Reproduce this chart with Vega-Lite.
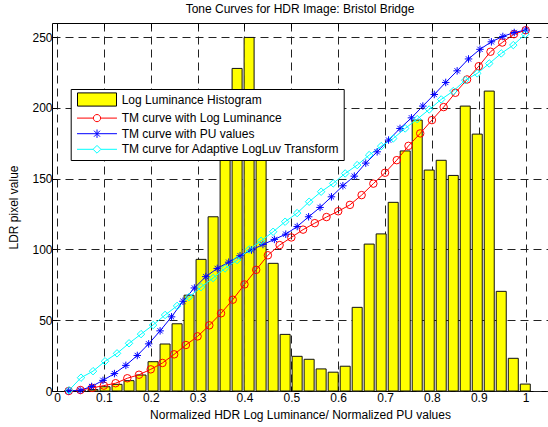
{
  "$schema": "https://vega.github.io/schema/vega-lite/v6.json",
  "width": 496,
  "height": 368,
  "autosize": {"type": "none"},
  "padding": {"left": 52, "top": 23, "right": 0, "bottom": 36},
  "background": "white",
  "title": {
    "text": "Tone Curves for HDR Image: Bristol Bridge",
    "font": "Liberation Sans",
    "fontSize": 12,
    "fontWeight": "normal",
    "color": "black",
    "anchor": "middle",
    "frame": "group",
    "baseline": "alphabetic",
    "offset": 7.5,
    "dy": 10
  },
  "resolve": {"axis": {"x": "independent"}},
  "datasets": {
    "hist": [
      {"s": "Log Luminance Histogram", "x": 0.0256, "y": 0},
      {"s": "Log Luminance Histogram", "x": 0.0512, "y": 0},
      {"s": "Log Luminance Histogram", "x": 0.0769, "y": 1},
      {"s": "Log Luminance Histogram", "x": 0.1025, "y": 3},
      {"s": "Log Luminance Histogram", "x": 0.1281, "y": 4.7},
      {"s": "Log Luminance Histogram", "x": 0.1537, "y": 7.3},
      {"s": "Log Luminance Histogram", "x": 0.1793, "y": 11.3},
      {"s": "Log Luminance Histogram", "x": 0.2050, "y": 20.7},
      {"s": "Log Luminance Histogram", "x": 0.2306, "y": 33.2},
      {"s": "Log Luminance Histogram", "x": 0.2562, "y": 47.5},
      {"s": "Log Luminance Histogram", "x": 0.2818, "y": 67.7},
      {"s": "Log Luminance Histogram", "x": 0.3074, "y": 93},
      {"s": "Log Luminance Histogram", "x": 0.3331, "y": 123.1},
      {"s": "Log Luminance Histogram", "x": 0.3587, "y": 190},
      {"s": "Log Luminance Histogram", "x": 0.3843, "y": 227.9},
      {"s": "Log Luminance Histogram", "x": 0.4099, "y": 249.8},
      {"s": "Log Luminance Histogram", "x": 0.4355, "y": 180},
      {"s": "Log Luminance Histogram", "x": 0.4612, "y": 90.2},
      {"s": "Log Luminance Histogram", "x": 0.4868, "y": 40},
      {"s": "Log Luminance Histogram", "x": 0.5124, "y": 24.5},
      {"s": "Log Luminance Histogram", "x": 0.5380, "y": 22.4},
      {"s": "Log Luminance Histogram", "x": 0.5636, "y": 15.6},
      {"s": "Log Luminance Histogram", "x": 0.5893, "y": 13.3},
      {"s": "Log Luminance Histogram", "x": 0.6149, "y": 17.5},
      {"s": "Log Luminance Histogram", "x": 0.6405, "y": 59.1},
      {"s": "Log Luminance Histogram", "x": 0.6661, "y": 103.8},
      {"s": "Log Luminance Histogram", "x": 0.6917, "y": 111},
      {"s": "Log Luminance Histogram", "x": 0.7174, "y": 133.3},
      {"s": "Log Luminance Histogram", "x": 0.7430, "y": 169.6},
      {"s": "Log Luminance Histogram", "x": 0.7686, "y": 191.4},
      {"s": "Log Luminance Histogram", "x": 0.7942, "y": 156.1},
      {"s": "Log Luminance Histogram", "x": 0.8198, "y": 163},
      {"s": "Log Luminance Histogram", "x": 0.8455, "y": 152.3},
      {"s": "Log Luminance Histogram", "x": 0.8711, "y": 201.3},
      {"s": "Log Luminance Histogram", "x": 0.8967, "y": 181.5},
      {"s": "Log Luminance Histogram", "x": 0.9223, "y": 211.9},
      {"s": "Log Luminance Histogram", "x": 0.9479, "y": 70.4},
      {"s": "Log Luminance Histogram", "x": 0.9736, "y": 23.1},
      {"s": "Log Luminance Histogram", "x": 0.9992, "y": 4.9}
    ],
    "curves": [
      {"s": "TM curve with Log Luminance", "x": 0.025, "y": 0},
      {"s": "TM curve with Log Luminance", "x": 0.05, "y": 0.7},
      {"s": "TM curve with Log Luminance", "x": 0.075, "y": 2.2},
      {"s": "TM curve with Log Luminance", "x": 0.1, "y": 3.8},
      {"s": "TM curve with Log Luminance", "x": 0.125, "y": 5.5},
      {"s": "TM curve with Log Luminance", "x": 0.15, "y": 9},
      {"s": "TM curve with Log Luminance", "x": 0.175, "y": 11.5},
      {"s": "TM curve with Log Luminance", "x": 0.2, "y": 15.3},
      {"s": "TM curve with Log Luminance", "x": 0.225, "y": 19.8},
      {"s": "TM curve with Log Luminance", "x": 0.25, "y": 25.9},
      {"s": "TM curve with Log Luminance", "x": 0.275, "y": 32.5},
      {"s": "TM curve with Log Luminance", "x": 0.3, "y": 38.6},
      {"s": "TM curve with Log Luminance", "x": 0.325, "y": 46.4},
      {"s": "TM curve with Log Luminance", "x": 0.35, "y": 54.9},
      {"s": "TM curve with Log Luminance", "x": 0.375, "y": 64.5},
      {"s": "TM curve with Log Luminance", "x": 0.4, "y": 75.3},
      {"s": "TM curve with Log Luminance", "x": 0.425, "y": 85.6},
      {"s": "TM curve with Log Luminance", "x": 0.45, "y": 95.9},
      {"s": "TM curve with Log Luminance", "x": 0.475, "y": 103.1},
      {"s": "TM curve with Log Luminance", "x": 0.5, "y": 108.5},
      {"s": "TM curve with Log Luminance", "x": 0.525, "y": 114},
      {"s": "TM curve with Log Luminance", "x": 0.55, "y": 118.6},
      {"s": "TM curve with Log Luminance", "x": 0.575, "y": 122.9},
      {"s": "TM curve with Log Luminance", "x": 0.6, "y": 127},
      {"s": "TM curve with Log Luminance", "x": 0.625, "y": 131.5},
      {"s": "TM curve with Log Luminance", "x": 0.65, "y": 138.4},
      {"s": "TM curve with Log Luminance", "x": 0.675, "y": 146.5},
      {"s": "TM curve with Log Luminance", "x": 0.7, "y": 154.2},
      {"s": "TM curve with Log Luminance", "x": 0.725, "y": 163.1},
      {"s": "TM curve with Log Luminance", "x": 0.75, "y": 173.2},
      {"s": "TM curve with Log Luminance", "x": 0.775, "y": 182},
      {"s": "TM curve with Log Luminance", "x": 0.8, "y": 191.4},
      {"s": "TM curve with Log Luminance", "x": 0.825, "y": 200.6},
      {"s": "TM curve with Log Luminance", "x": 0.85, "y": 210.7},
      {"s": "TM curve with Log Luminance", "x": 0.875, "y": 220.1},
      {"s": "TM curve with Log Luminance", "x": 0.9, "y": 229.5},
      {"s": "TM curve with Log Luminance", "x": 0.925, "y": 239.7},
      {"s": "TM curve with Log Luminance", "x": 0.95, "y": 246.2},
      {"s": "TM curve with Log Luminance", "x": 0.975, "y": 252.1},
      {"s": "TM curve with Log Luminance", "x": 1.0, "y": 254.9},
      {"s": "TM curve with PU values", "x": 0.025, "y": 0},
      {"s": "TM curve with PU values", "x": 0.0494, "y": 0.5},
      {"s": "TM curve with PU values", "x": 0.0738, "y": 3.2},
      {"s": "TM curve with PU values", "x": 0.0981, "y": 7.5},
      {"s": "TM curve with PU values", "x": 0.1225, "y": 12.3},
      {"s": "TM curve with PU values", "x": 0.1469, "y": 18.1},
      {"s": "TM curve with PU values", "x": 0.1713, "y": 25.1},
      {"s": "TM curve with PU values", "x": 0.1956, "y": 33.3},
      {"s": "TM curve with PU values", "x": 0.2200, "y": 42.5},
      {"s": "TM curve with PU values", "x": 0.2444, "y": 52.4},
      {"s": "TM curve with PU values", "x": 0.2688, "y": 63.4},
      {"s": "TM curve with PU values", "x": 0.2931, "y": 72.8},
      {"s": "TM curve with PU values", "x": 0.3175, "y": 80.8},
      {"s": "TM curve with PU values", "x": 0.3419, "y": 86.6},
      {"s": "TM curve with PU values", "x": 0.3663, "y": 91},
      {"s": "TM curve with PU values", "x": 0.3906, "y": 95.6},
      {"s": "TM curve with PU values", "x": 0.4150, "y": 99.6},
      {"s": "TM curve with PU values", "x": 0.4394, "y": 103.5},
      {"s": "TM curve with PU values", "x": 0.4638, "y": 107.1},
      {"s": "TM curve with PU values", "x": 0.4881, "y": 110.8},
      {"s": "TM curve with PU values", "x": 0.5125, "y": 116.2},
      {"s": "TM curve with PU values", "x": 0.5369, "y": 123.1},
      {"s": "TM curve with PU values", "x": 0.5613, "y": 129.7},
      {"s": "TM curve with PU values", "x": 0.5856, "y": 137.2},
      {"s": "TM curve with PU values", "x": 0.6100, "y": 145},
      {"s": "TM curve with PU values", "x": 0.6344, "y": 151.8},
      {"s": "TM curve with PU values", "x": 0.6588, "y": 161},
      {"s": "TM curve with PU values", "x": 0.6831, "y": 169},
      {"s": "TM curve with PU values", "x": 0.7075, "y": 177.3},
      {"s": "TM curve with PU values", "x": 0.7319, "y": 185.5},
      {"s": "TM curve with PU values", "x": 0.7563, "y": 193},
      {"s": "TM curve with PU values", "x": 0.7806, "y": 201.3},
      {"s": "TM curve with PU values", "x": 0.8050, "y": 209.5},
      {"s": "TM curve with PU values", "x": 0.8294, "y": 218},
      {"s": "TM curve with PU values", "x": 0.8538, "y": 226.2},
      {"s": "TM curve with PU values", "x": 0.8781, "y": 234.6},
      {"s": "TM curve with PU values", "x": 0.9025, "y": 241.4},
      {"s": "TM curve with PU values", "x": 0.9269, "y": 246.7},
      {"s": "TM curve with PU values", "x": 0.9513, "y": 250.5},
      {"s": "TM curve with PU values", "x": 0.9756, "y": 253.3},
      {"s": "TM curve with PU values", "x": 1.0, "y": 255},
      {"s": "TM curve for Adaptive LogLuv Transform", "x": 0.0256, "y": 0.5},
      {"s": "TM curve for Adaptive LogLuv Transform", "x": 0.0512, "y": 9.4},
      {"s": "TM curve for Adaptive LogLuv Transform", "x": 0.0769, "y": 14},
      {"s": "TM curve for Adaptive LogLuv Transform", "x": 0.1025, "y": 21},
      {"s": "TM curve for Adaptive LogLuv Transform", "x": 0.1281, "y": 26.6},
      {"s": "TM curve for Adaptive LogLuv Transform", "x": 0.1537, "y": 33.7},
      {"s": "TM curve for Adaptive LogLuv Transform", "x": 0.1793, "y": 40.2},
      {"s": "TM curve for Adaptive LogLuv Transform", "x": 0.2050, "y": 46.6},
      {"s": "TM curve for Adaptive LogLuv Transform", "x": 0.2306, "y": 53.7},
      {"s": "TM curve for Adaptive LogLuv Transform", "x": 0.2562, "y": 60.1},
      {"s": "TM curve for Adaptive LogLuv Transform", "x": 0.2818, "y": 66.4},
      {"s": "TM curve for Adaptive LogLuv Transform", "x": 0.3074, "y": 73.4},
      {"s": "TM curve for Adaptive LogLuv Transform", "x": 0.3331, "y": 79.8},
      {"s": "TM curve for Adaptive LogLuv Transform", "x": 0.3587, "y": 86.6},
      {"s": "TM curve for Adaptive LogLuv Transform", "x": 0.3843, "y": 92.5},
      {"s": "TM curve for Adaptive LogLuv Transform", "x": 0.4099, "y": 100},
      {"s": "TM curve for Adaptive LogLuv Transform", "x": 0.4355, "y": 106.1},
      {"s": "TM curve for Adaptive LogLuv Transform", "x": 0.4612, "y": 112.5},
      {"s": "TM curve for Adaptive LogLuv Transform", "x": 0.4868, "y": 119.6},
      {"s": "TM curve for Adaptive LogLuv Transform", "x": 0.5124, "y": 125.7},
      {"s": "TM curve for Adaptive LogLuv Transform", "x": 0.5380, "y": 133.7},
      {"s": "TM curve for Adaptive LogLuv Transform", "x": 0.5636, "y": 140.8},
      {"s": "TM curve for Adaptive LogLuv Transform", "x": 0.5893, "y": 146.7},
      {"s": "TM curve for Adaptive LogLuv Transform", "x": 0.6149, "y": 153.7},
      {"s": "TM curve for Adaptive LogLuv Transform", "x": 0.6405, "y": 159.6},
      {"s": "TM curve for Adaptive LogLuv Transform", "x": 0.6661, "y": 166.7},
      {"s": "TM curve for Adaptive LogLuv Transform", "x": 0.6917, "y": 173},
      {"s": "TM curve for Adaptive LogLuv Transform", "x": 0.7174, "y": 178.4},
      {"s": "TM curve for Adaptive LogLuv Transform", "x": 0.7430, "y": 185.5},
      {"s": "TM curve for Adaptive LogLuv Transform", "x": 0.7686, "y": 192.1},
      {"s": "TM curve for Adaptive LogLuv Transform", "x": 0.7942, "y": 198.9},
      {"s": "TM curve for Adaptive LogLuv Transform", "x": 0.8198, "y": 206},
      {"s": "TM curve for Adaptive LogLuv Transform", "x": 0.8455, "y": 211.9},
      {"s": "TM curve for Adaptive LogLuv Transform", "x": 0.8711, "y": 219.6},
      {"s": "TM curve for Adaptive LogLuv Transform", "x": 0.8967, "y": 224.4},
      {"s": "TM curve for Adaptive LogLuv Transform", "x": 0.9223, "y": 231.4},
      {"s": "TM curve for Adaptive LogLuv Transform", "x": 0.9479, "y": 238.5},
      {"s": "TM curve for Adaptive LogLuv Transform", "x": 0.9736, "y": 244.4},
      {"s": "TM curve for Adaptive LogLuv Transform", "x": 0.9992, "y": 252.1}
    ]
  },
  "encoding": {
    "x": {
      "field": "x", "type": "quantitative",
      "scale": {"domain": [0, 1.037], "nice": false, "zero": false},
      "axis": {
        "values": [0, 0.1, 0.2, 0.3, 0.4, 0.5, 0.6, 0.7, 0.8, 0.9, 1],
        "format": "~g",
        "ticks": true,
        "tickSize": -5,
        "labelPadding": 6,
        "title": "Normalized HDR Log Luminance/ Normalized PU values",
        "titleBaseline": "alphabetic",
        "titleY": 27.5
      }
    },
    "y": {
      "field": "y", "type": "quantitative",
      "scale": {"domain": [0, 260], "nice": false},
      "axis": {
        "values": [0, 50, 100, 150, 200, 250],
        "ticks": true,
        "tickSize": -5,
        "labelPadding": 5,
        "title": "LDR pixel value",
        "titleBaseline": "alphabetic",
        "titleX": -35
      }
    }
  },
  "layer": [
    {
      "data": {"name": "hist"},
      "mark": {"type": "bar", "width": 10, "stroke": "#111", "strokeWidth": 1, "opacity": 1},
      "encoding": {
        "fill": {
          "field": "s", "type": "nominal",
          "scale": {
            "domain": ["Log Luminance Histogram", "TM curve with Log Luminance", "TM curve with PU values", "TM curve for Adaptive LogLuv Transform"],
            "range": ["#ffff00", "#ff0000", "#0000ff", "#00ffff"]
          },
          "legend": {
            "title": null,
            "orient": "none",
            "legendX": 18.7,
            "legendY": 66,
            "padding": 4,
            "fillColor": "white",
            "strokeColor": "black",
            "labelFont": "Liberation Sans",
            "labelFontSize": 12,
            "labelColor": "black",
            "labelLimit": 400,
            "rowPadding": 2.6,
            "symbolSize": 144,
            "symbolOffset": 15.8,
            "labelOffset": 18.2,
            "symbolOpacity": 1,
            "symbolStrokeWidth": 1,
            "encode": {
              "symbols": {
                "update": {
                  "shape": {"signal": "datum.value === 'Log Luminance Histogram' ? 'M-3.25,-1.1H3.25V1.1H-3.25Z' : datum.value === 'TM curve with Log Luminance' ? 'M-3.33,0H-0.6M0.6,0H3.33M0.6,0A0.6,0.6 0 1,1 -0.6,0A0.6,0.6 0 1,1 0.6,0' : datum.value === 'TM curve with PU values' ? 'M-3.33,0H3.33M0,-0.7V0.7M-0.5,-0.5L0.5,0.5M-0.5,0.5L0.5,-0.5' : 'M-3.33,0H-0.65M0.65,0H3.33M0,-0.65L0.65,0L0,0.65L-0.65,0Z'"},
                  "fillOpacity": {"signal": "datum.value === 'Log Luminance Histogram' ? 1 : 0"},
                  "strokeOpacity": {"value": 1},
                  "strokeWidth": {"value": 1},
                  "opacity": {"value": 1}
                }
              }
            }
          }
        }
      }
    },
    {
      "data": {"name": "curves"},
      "encoding": {
        "x": {
          "field": "x", "type": "quantitative",
          "scale": {"domain": [0, 1.037], "nice": false, "zero": false},
          "axis": {
            "orient": "top",
            "values": [0, 0.1, 0.2, 0.3, 0.4, 0.5, 0.6, 0.7, 0.8, 0.9, 1],
            "labels": false,
            "title": null,
            "grid": false,
            "domain": false,
            "ticks": true,
            "tickSize": -5
          }
        },
        "stroke": {
          "field": "s", "type": "nominal",
          "scale": {
            "domain": ["Log Luminance Histogram", "TM curve with Log Luminance", "TM curve with PU values", "TM curve for Adaptive LogLuv Transform"],
            "range": ["#000000", "#ff0000", "#0000ff", "#00ffff"]
          },
          "legend": {
            "title": null,
            "orient": "none",
            "legendX": 18.7,
            "legendY": 66,
            "padding": 4,
            "fillColor": "white",
            "strokeColor": "black",
            "labelFont": "Liberation Sans",
            "labelFontSize": 12,
            "labelColor": "black",
            "labelLimit": 400,
            "rowPadding": 2.6,
            "symbolSize": 144,
            "symbolOffset": 15.8,
            "labelOffset": 18.2,
            "symbolOpacity": 1,
            "symbolStrokeWidth": 1,
            "encode": {
              "symbols": {
                "update": {
                  "shape": {"signal": "datum.value === 'Log Luminance Histogram' ? 'M-3.25,-1.1H3.25V1.1H-3.25Z' : datum.value === 'TM curve with Log Luminance' ? 'M-3.33,0H-0.6M0.6,0H3.33M0.6,0A0.6,0.6 0 1,1 -0.6,0A0.6,0.6 0 1,1 0.6,0' : datum.value === 'TM curve with PU values' ? 'M-3.33,0H3.33M0,-0.7V0.7M-0.5,-0.5L0.5,0.5M-0.5,0.5L0.5,-0.5' : 'M-3.33,0H-0.65M0.65,0H3.33M0,-0.65L0.65,0L0,0.65L-0.65,0Z'"},
                  "fillOpacity": {"signal": "datum.value === 'Log Luminance Histogram' ? 1 : 0"},
                  "strokeOpacity": {"value": 1},
                  "strokeWidth": {"value": 1},
                  "opacity": {"value": 1}
                }
              }
            }
          }
        }
      },
      "layer": [
        {
          "mark": {"type": "line", "strokeWidth": 1}
        },
        {
          "mark": {"type": "point", "filled": false, "opacity": 1, "strokeWidth": 1, "size": 56},
          "encoding": {
            "shape": {
              "field": "s", "type": "nominal",
              "scale": {
                "domain": ["TM curve with Log Luminance", "TM curve with PU values", "TM curve for Adaptive LogLuv Transform"],
                "range": ["circle", "M-1,0H1M0,-1V1M-0.7,-0.7L0.7,0.7M-0.7,0.7L0.7,-0.7", "diamond"]
              },
              "legend": null
            }
          }
        }
      ]
    }
  ],
  "config": {
    "font": "Liberation Sans",
    "view": {"stroke": "black", "strokeWidth": 1},
    "axis": {
      "labelFont": "Liberation Sans",
      "labelFontSize": 12,
      "labelColor": "black",
      "titleFont": "Liberation Sans",
      "titleFontSize": 12,
      "titleFontWeight": "normal",
      "titleColor": "black",
      "grid": true,
      "gridColor": "#222",
      "gridDash": [8, 5],
      "gridWidth": 1,
      "tickColor": "black",
      "domain": false
    }
  }
}
